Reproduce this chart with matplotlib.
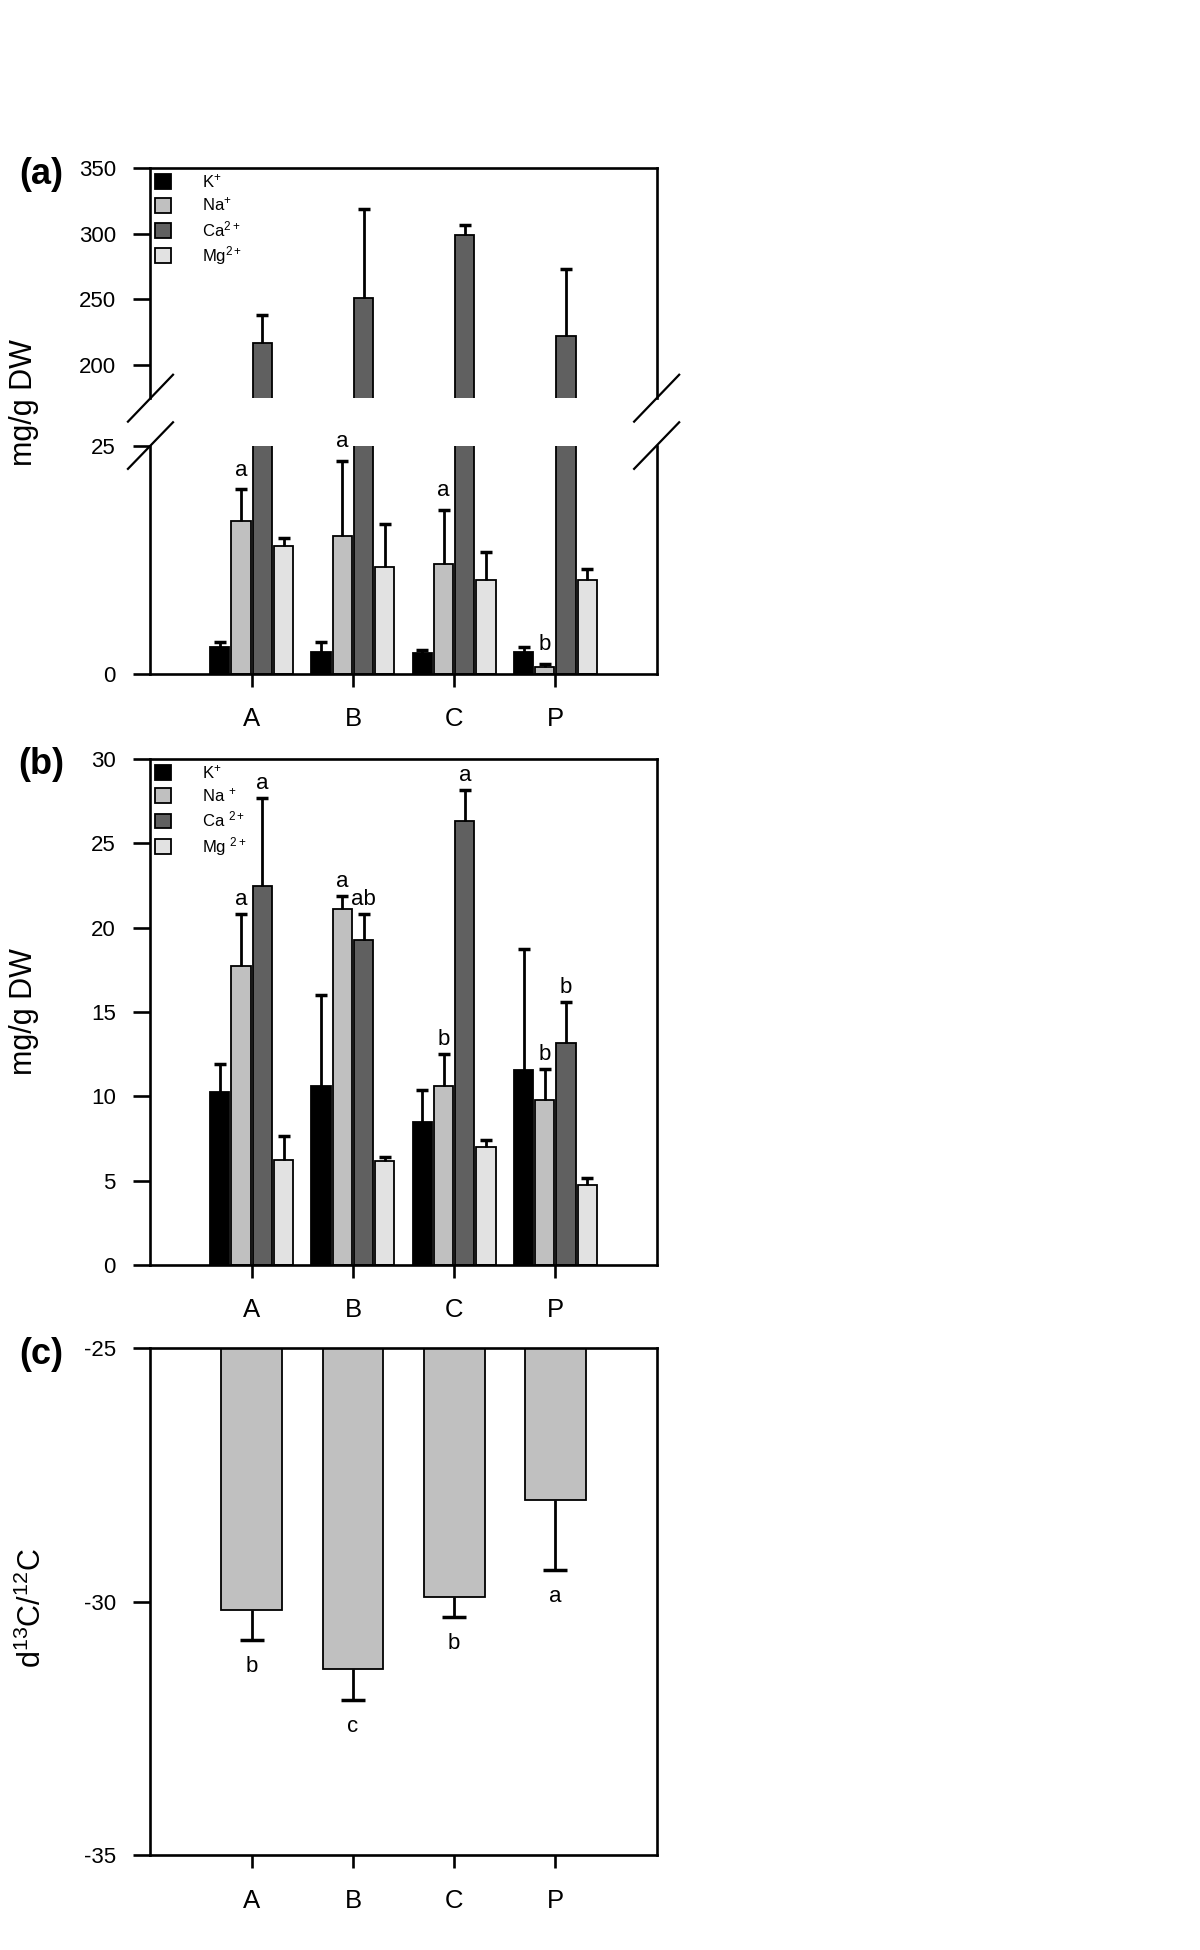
import matplotlib
matplotlib.use("Agg")
import matplotlib.pyplot as plt
from matplotlib.patches import Patch
import numpy as np

plt.rcParams['font.family'] = ['Liberation Sans', 'DejaVu Sans']
plt.rcParams['mathtext.default'] = 'regular'
plt.rcParams['axes.unicode_minus'] = False

# groups and ions
sites = ['A', 'B', 'C', 'P']
ions_a = ['K$^{+}$', 'Na$^{+}$', 'Ca$^{2+}$', 'Mg$^{2+}$']
ions_b = ['K$^{+}$', 'Na $^{+}$', 'Ca $^{2+}$', 'Mg $^{2+}$']
ion_colors = ['#000000', '#c0c0c0', '#606060', '#e2e2e2']

# panel (a) - mean and upper error
k_a = [2.9, 2.4, 2.3, 2.45]
k_a_err = [0.55, 1.05, 0.35, 0.55]
na_a = [16.7, 15.1, 12.05, 0.8]
na_a_err = [3.5, 8.2, 5.95, 0.25]
ca_a = [216.6, 251.0, 299.0, 222.2]
ca_a_err = [21.4, 68.0, 7.6, 50.8]
mg_a = [14.0, 11.7, 10.3, 10.3]
mg_a_err = [0.9, 4.7, 3.0, 1.2]
na_a_letters = ['a', 'a', 'a', 'b']

# panel (b)
k_b = [10.26, 10.6, 8.5, 11.58]
k_b_err = [1.67, 5.38, 1.9, 7.17]
na_b = [17.7, 21.1, 10.6, 9.8]
na_b_err = [3.1, 0.76, 1.9, 1.8]
ca_b = [22.46, 19.25, 26.3, 13.15]
ca_b_err = [5.24, 1.55, 1.86, 2.45]
mg_b = [6.2, 6.14, 7.0, 4.73]
mg_b_err = [1.43, 0.26, 0.4, 0.42]
na_b_letters = ['a', 'a', 'b', 'b']
ca_b_letters = ['a', 'ab', 'a', 'b']

# panel (c)
d13c = [-30.17, -31.33, -29.92, -28.0]
d13c_err = [0.59, 0.62, 0.39, 1.37]
d13c_letters = ['b', 'c', 'b', 'a']

x = np.arange(len(sites))
bar_w = 0.19
offsets = [-0.315, -0.105, 0.105, 0.315]
LW = 1.9


def style_axis(ax):
    for s in ax.spines.values():
        s.set_linewidth(LW)
    ax.tick_params(axis='y', direction='out', length=12, width=LW,
                   labelsize=16, pad=13)
    ax.tick_params(axis='x', direction='out', length=9, width=LW,
                   labelsize=18.5, pad=15)
    ax.set_xlim(-1, 4)


def one_sided(ax, xs, m, lo, hi, cap):
    # error bar only on one side, drop the cap that sits on the bar
    _, caps, _ = ax.errorbar(xs, m, yerr=[lo, hi], fmt='none', ecolor='black',
                             elinewidth=2, capsize=cap, capthick=2.5, zorder=3)
    if np.any(hi):
        caps[0].set_visible(False)
    else:
        caps[1].set_visible(False)


def draw_ions(ax, means, errs):
    for i, (m, e) in enumerate(zip(means, errs)):
        xs = x + offsets[i]
        ax.bar(xs, m, width=bar_w, color=ion_colors[i], edgecolor='black',
               linewidth=1.3, zorder=2)
        one_sided(ax, xs, m, np.zeros(len(m)), e, 4.3)


def letters(ax, xs, tops, labs, dy, va='baseline'):
    for xi, t, l in zip(xs, tops, labs):
        ax.annotate(l, (xi, t), xytext=(0, dy), textcoords='offset points',
                    ha='center', va=va, fontsize=16, annotation_clip=False)


def legend(ax, labels):
    handles = [Patch(facecolor=c, edgecolor='black', linewidth=1.3)
               for c in ion_colors]
    ax.legend(handles, labels, loc='upper left', bbox_to_anchor=(0, 1),
              frameon=False, fontsize=12, handlelength=1.0, handleheight=1.0,
              handletextpad=1.85, labelspacing=0.32, borderpad=0.25,
              borderaxespad=0.0)


fig = plt.figure(figsize=(12, 19.5), dpi=100)

# ---- panel (a): broken axis
ax_up = fig.add_axes([0.1254, 0.7958, 0.4218, 0.1179])
ax_lo = fig.add_axes([0.1254, 0.6544, 0.4218, 0.1171])
means_a = [k_a, na_a, ca_a, mg_a]
errs_a = [k_a_err, na_a_err, ca_a_err, mg_a_err]
for ax in (ax_up, ax_lo):
    style_axis(ax)
    draw_ions(ax, means_a, errs_a)
ax_up.set_ylim(174.4, 350)
ax_up.set_yticks([200, 250, 300, 350])
ax_up.spines['bottom'].set_visible(False)
ax_up.set_xticks([])
ax_lo.set_ylim(0, 25)
ax_lo.set_yticks([0, 25])
ax_lo.spines['top'].set_visible(False)
ax_lo.set_xticks(x)
ax_lo.set_xticklabels(sites)
legend(ax_up, ions_a)
na_top_a = np.array(na_a) + np.array(na_a_err)
letters(ax_lo, x + offsets[1], na_top_a, na_a_letters, 10)

# break marks
dx, dy = 0.0445, 0.102
for xe in (0, 1):
    ax_up.plot([xe - dx, xe + dx], [-dy, dy], transform=ax_up.transAxes,
               color='black', lw=1.6, clip_on=False)
    ax_lo.plot([xe - dx, xe + dx], [1 - dy, 1 + dy], transform=ax_lo.transAxes,
               color='black', lw=1.6, clip_on=False)

# ---- panel (b)
ax_b = fig.add_axes([0.1254, 0.3513, 0.4218, 0.2595])
style_axis(ax_b)
draw_ions(ax_b, [k_b, na_b, ca_b, mg_b], [k_b_err, na_b_err, ca_b_err, mg_b_err])
ax_b.set_ylim(0, 30)
ax_b.set_yticks(np.arange(0, 31, 5))
ax_b.set_xticks(x)
ax_b.set_xticklabels(sites)
legend(ax_b, ions_b)
letters(ax_b, x + offsets[1], np.array(na_b) + np.array(na_b_err), na_b_letters, 6.5)
letters(ax_b, x + offsets[2], np.array(ca_b) + np.array(ca_b_err), ca_b_letters, 6.5)

# ---- panel (c)
ax_c = fig.add_axes([0.1254, 0.0486, 0.4218, 0.2602])
style_axis(ax_c)
vals = np.array(d13c)
ax_c.bar(x, vals + 25, bottom=-25, width=0.6, color='#c0c0c0',
         edgecolor='black', linewidth=1.3, zorder=2)
one_sided(ax_c, x, vals, d13c_err, np.zeros(len(vals)), 8.3)
ax_c.set_ylim(-35, -25)
ax_c.set_yticks([-25, -30, -35])
ax_c.set_xticks(x)
ax_c.set_xticklabels(sites)
letters(ax_c, x, vals - np.array(d13c_err), d13c_letters, -23)

# axis titles and panel tags
fig.text(24 / 1200, 1 - 403 / 1950, 'mg/g DW', rotation=90, ha='center',
         va='center', fontsize=22)
fig.text(24 / 1200, 1 - 1012 / 1950, 'mg/g DW', rotation=90, ha='center',
         va='center', fontsize=22)
fig.text(32 / 1200, 1 - 1608 / 1950, 'd$^{13}$C/$^{12}$C', rotation=90,
         ha='center', va='center', fontsize=22)
for tag, yy in (('(a)', 175), ('(b)', 765), ('(c)', 1354)):
    fig.text(41 / 1200, 1 - yy / 1950, tag, ha='center', va='center',
             fontsize=26, fontweight='bold')

fig.savefig('out.png', dpi=100)
